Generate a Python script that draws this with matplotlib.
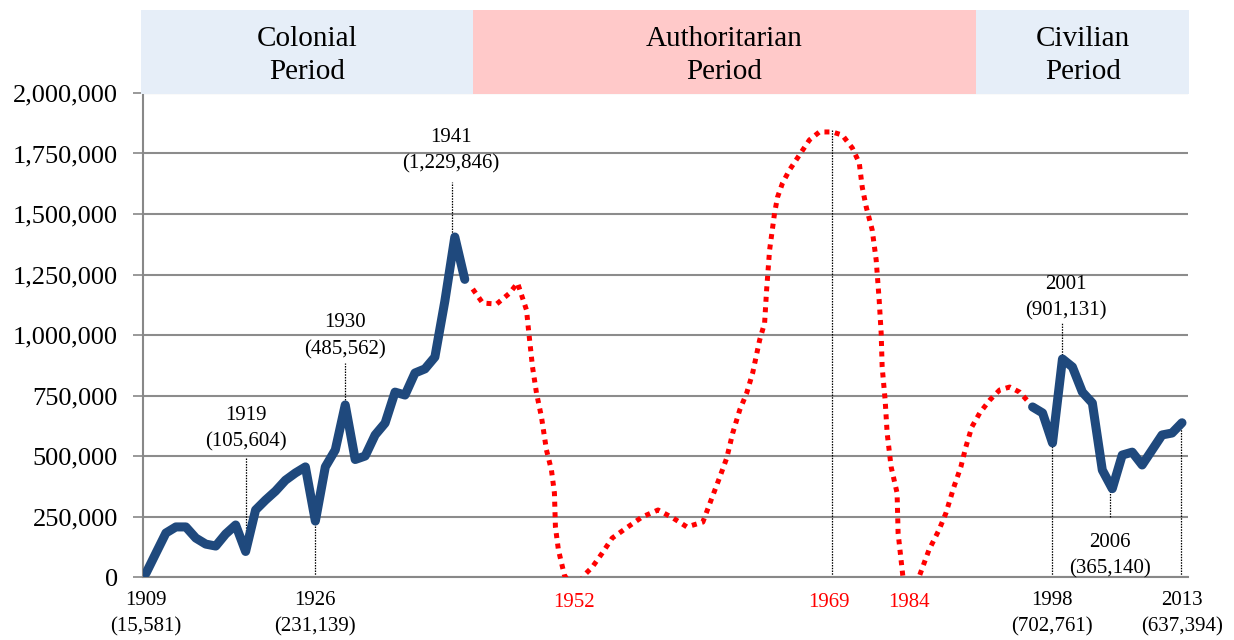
import numpy as np
import matplotlib
matplotlib.use("Agg")
import matplotlib.pyplot as plt
from matplotlib.patches import Rectangle
import matplotlib.transforms as mtransforms

plt.rcParams['font.family'] = ['Liberation Serif', 'DejaVu Serif']

# ======================================================
# Data
# ======================================================
colonial_years = list(range(1909, 1942))
colonial_values = [15581, 99000, 182000, 207000, 207000, 161000, 136000, 128000,
                   178000, 215000, 105604, 277000, 318000, 355000, 400000, 430000,
                   455000, 231139, 455000, 525000, 711000, 485562, 500000, 587000,
                   636000, 764000, 752000, 843000, 860000, 909000, 1140000, 1405000,
                   1229846]

civilian_years = list(range(1998, 2014))
civilian_values = [702761, 678000, 554000, 901131, 868000, 764000, 719000, 442000,
                   365140, 504000, 516000, 463000, 525000, 587000, 595000, 637394]

# schematic (dotted) authoritarian-era trend
trend_x = [1941.8, 1942.8, 1944.2, 1945.5, 1946.3, 1947.2, 1947.4, 1947.8, 1948.2,
           1948.7, 1949.2, 1949.7, 1950.0, 1950.1, 1950.4, 1951.0, 1952.0, 1953.0,
           1953.8, 1954.8, 1955.8, 1957.2, 1958.8, 1960.4, 1961.9, 1963.3, 1964.9,
           1965.8, 1966.6, 1967.3, 1967.9, 1968.6, 1969.3, 1969.9, 1970.6, 1971.1,
           1971.3, 1971.6, 1972.1, 1972.4, 1972.9, 1973.6, 1974.6, 1975.6, 1976.6,
           1977.9, 1978.9, 1979.9, 1980.6, 1980.9, 1981.3, 1981.9, 1982.3, 1982.6,
           1982.8, 1982.9, 1983.2, 1983.4, 1983.8, 1984.4, 1984.5, 1984.8, 1985.0,
           1985.7, 1986.6, 1987.6, 1988.6, 1989.3, 1990.1, 1990.8, 1991.3, 1991.9,
           1992.7, 1993.7, 1994.7, 1995.7, 1996.7, 1997.7]
trend_values = [1190, 1132, 1128, 1173, 1215, 1103, 1021, 868, 760,
                661, 525, 442, 347, 207, 112, 8, -60, 8,
                41, 99, 161, 202, 248, 277, 244, 207, 227,
                326, 413, 492, 595, 690, 760, 843, 979, 1050,
                1186, 1351, 1504, 1570, 1628, 1682, 1744, 1806, 1839,
                1839, 1826, 1773, 1711, 1611, 1529, 1434, 1310, 1145,
                1008, 868, 731, 595, 455, 347, 182, 70, -5,
                -60, 0, 112, 194, 264, 372, 455, 537, 620,
                678, 731, 773, 785, 764, 719]
trend_values = [v * 1000 for v in trend_values]

periods = ["Colonial\nPeriod", "Authoritarian\nPeriod", "Civilian\nPeriod"]
period_bounds = [(1908.5, 1941.8), (1941.8, 1992.35), (1992.35, 2013.7)]
period_colors = ["#E6EEF8", "#FFC9C9", "#E6EEF8"]

yticks = [0, 250000, 500000, 750000, 1000000, 1250000, 1500000, 1750000, 2000000]

# labelled points: text, x of text, y of text, leader x, leader y0, leader y1
labels_inside = [
    ("1919\n(105,604)", 1919.0, 611000, 1919.03, 99000, 496000),
    ("1930\n(485,562)", 1929.0, 995000, 1928.96, 731000, 884000),
    ("1941\n(1,229,846)", 1939.6, 1760000, 1939.7, 1413000, 1632000),
    ("2001\n(901,131)", 2001.3, 1153000, 2001.0, 917000, 1050000),
    ("2006\n(365,140)", 2005.8, 87000, 2005.8, 248000, 372000),
]
labels_below = [
    ("1909\n(15,581)", 1909.0, None),
    ("1926\n(231,139)", 1926.0, 1925.95),
    ("1998\n(702,761)", 1999.9, 1999.9),
    ("2013\n(637,394)", 2013.0, 2012.9),
]
red_labels = [("1952", 1952.0), ("1969", 1977.6), ("1984", 1985.6)]
leader_1969 = 1977.9

# ======================================================
# Figure
# ======================================================
fig = plt.figure(figsize=(12.34, 6.4), dpi=100)
ax = fig.add_axes([0.1159, 0.0984, 0.8468, 0.7563])

ax.set_xlim(1908.7, 2013.6)
ax.set_ylim(0, 2000000)
ax.set_yticks(yticks)
ax.set_yticklabels([f"{v:,}" for v in yticks], fontsize=19)
ax.set_xticks([])
ax.tick_params(axis='y', length=7, width=1.2, color='#888888', pad=11)

for s in ['top', 'right']:
    ax.spines[s].set_visible(False)
for s in ['left', 'bottom']:
    ax.spines[s].set_color('#888888')
    ax.spines[s].set_linewidth(1.5)
ax.yaxis.grid(True, color='#8c8c8c', linewidth=1.5)
ax.set_axisbelow(True)

# leader lines
for txt, tx, ty, lx, y0, y1 in labels_inside:
    ax.plot([lx, lx], [y0, y1], color='black', lw=0.9, ls=(0, (1.2, 1)), zorder=2)
for txt, tx, lx in labels_below:
    if lx is not None:
        ax.plot([lx, lx], [0, np.interp(lx, colonial_years + civilian_years,
                                         colonial_values + civilian_values)],
                color='black', lw=0.9, ls=(0, (1.2, 1)), zorder=2)
ax.plot([leader_1969, leader_1969], [0, 1847000], color='black', lw=0.9,
        ls=(0, (1.2, 1)), zorder=2)

# series
ax.plot(colonial_years, colonial_values, color='#1F497D', lw=6.5,
        solid_joinstyle='round', solid_capstyle='round', zorder=4)
ax.plot(civilian_years, civilian_values, color='#1F497D', lw=6.5,
        solid_joinstyle='round', solid_capstyle='round', zorder=4)
ax.plot(trend_x, trend_values, color='#FF0000', lw=3.6, ls=(0, (1, 1.1)),
        dash_capstyle='butt', zorder=3)

# text labels
for txt, tx, ty, lx, y0, y1 in labels_inside:
    ax.text(tx, ty, txt, ha='center', va='center', fontsize=15, linespacing=1.52)
for txt, tx, lx in labels_below:
    ax.text(tx, -153000, txt, ha='center', va='center', fontsize=15,
            linespacing=1.52, clip_on=False)
for txt, tx in red_labels:
    ax.text(tx, -105000, txt, ha='center', va='center', fontsize=15,
            color='#FF0000', clip_on=False)

# period headers
trans = mtransforms.blended_transform_factory(ax.transData, ax.transAxes)
for name, (x0, x1), c in zip(periods, period_bounds, period_colors):
    ax.add_patch(Rectangle((x0, 0.998), x1 - x0, 0.1735, transform=trans,
                           facecolor=c, edgecolor='none', clip_on=False, zorder=5))
    ax.text((x0 + x1) / 2, 1.0775, name, transform=trans, ha='center',
            va='center', fontsize=21, linespacing=1.32, zorder=6)

fig.savefig("out.png", dpi=100)
